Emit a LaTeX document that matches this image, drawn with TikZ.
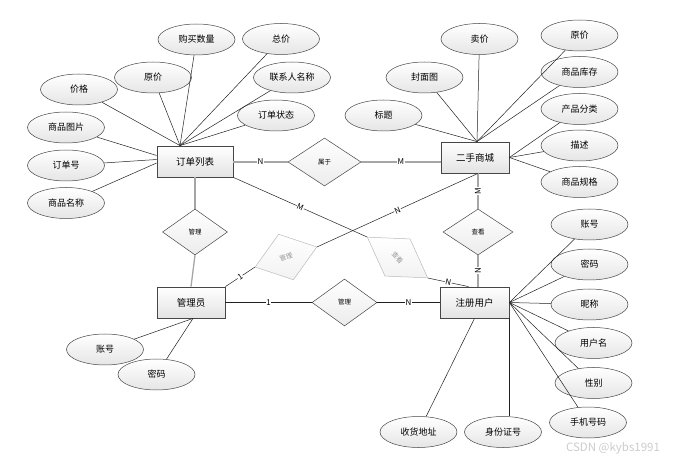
\documentclass[tikz,border=0pt]{standalone}
\usepackage{fontspec}
\setmainfont{Noto Sans CJK SC}
\usetikzlibrary{shapes.geometric}
\tikzstyle{entity} = [draw=gray!55!black, line width=0.8pt, rectangle, top color=white, bottom color=gray!22, minimum height=31pt, inner sep=0pt, font={\fontsize{9.5}{10}\selectfont}]
\tikzstyle{attr} = [draw=gray!55!black, line width=0.5pt, ellipse, top color=white, bottom color=gray!20, minimum width=77pt, minimum height=31pt, inner sep=0pt, font={\fontsize{9}{10}\selectfont}]
\tikzstyle{rel} = [draw=gray!55!black, line width=0.5pt, diamond, top color=white, bottom color=gray!15, inner sep=0pt, font={\fontsize{6.5}{7}\selectfont}]
\tikzstyle{faded} = [draw=gray!55, text=gray!85, top color=white, bottom color=gray!10]
\tikzstyle{card} = [fill=white, inner sep=0.6pt, font={\fontsize{8}{8}\selectfont}]
\tikzstyle{heavy} = [draw=gray!70, line width=1.3pt]
\tikzstyle{plain} = [draw=gray!25!black, line width=0.5pt]
\tikzstyle{watermark} = [text=gray!40, font={\fontsize{11.5}{12}\selectfont}]

\begin{document}
\begin{tikzpicture}[x=1pt,y=-1pt]
  \useasboundingbox (0,0) rectangle (675,462);
  % entities
  \node[entity,minimum width=76pt](ol) at (195,161.5){订单列表};
  \node[entity,minimum width=68pt](shop) at (475,157.5){二手商城};
  \node[entity,minimum width=68pt](admin) at (191,302.5){管理员};
  \node[entity,minimum width=69pt](user) at (474.5,302.5){注册用户};
  % relations
  \node[rel,minimum width=73pt,minimum height=48pt](belong) at (324.5,162){属于};
  \node[rel,minimum width=65pt,minimum height=46pt](mgA) at (195,232){管理};
  \node[rel,minimum width=70pt,minimum height=46pt](viewB) at (478,232){查看};
  \node[rel,minimum width=65pt,minimum height=47pt](mgB) at (344.5,302.5){管理};
  \node[rel,faded,rotate=18,minimum width=65pt,minimum height=48pt](mgC) at (286,257){管理};
  \node[rel,faded,rotate=-34,minimum width=73pt,minimum height=45pt](viewA) at (397.5,257.5){\rotatebox{-14}{查看}};
  % attributes of 订单列表
  \node[attr](olQty) at (196.5,39.5){购买数量};
  \node[attr](olTotal) at (281,39){总价};
  \node[attr](olOrig) at (153,77.5){原价};
  \node[attr](olContact) at (292,77.5){联系人名称};
  \node[attr](olPrice) at (79,89.5){价格};
  \node[attr](olState) at (276,115.5){订单状态};
  \node[attr](olPic) at (66,127.5){商品图片};
  \node[attr](olNo) at (66,165.5){订单号};
  \node[attr](olName) at (66,203){商品名称};
  % attributes of 二手商城
  \node[attr](shSell) at (479.5,39){卖价};
  \node[attr](shOrig) at (579.5,35.5){原价};
  \node[attr](shCover) at (424.5,77.5){封面图};
  \node[attr](shStock) at (579.5,72){商品库存};
  \node[attr](shTitle) at (383.5,115.5){标题};
  \node[attr](shKind) at (579.5,109){产品分类};
  \node[attr](shDesc) at (579.5,145.5){描述};
  \node[attr](shSpec) at (579.5,182){商品规格};
  % attributes of 注册用户
  \node[attr](usAcc) at (589.5,224.5){账号};
  \node[attr](usPwd) at (589.5,264.5){密码};
  \node[attr](usNick) at (589.5,304.5){昵称};
  \node[attr](usName) at (593.5,343){用户名};
  \node[attr](usSex) at (593.5,383){性别};
  \node[attr](usTel) at (588,422.5){手机号码};
  \node[attr](usAddr) at (418.5,432){收货地址};
  \node[attr](usId) at (503,432){身份证号};
  % attributes of 管理员
  \node[attr](adAcc) at (105,349.5){账号};
  \node[attr](adPwd) at (156.5,374.5){密码};
  \node[watermark](wm) at (613,448){CSDN @kybs1991};
  % attribute lines
  \coordinate (olTop) at ([xshift=-15pt]ol.north);
  \foreach \a in {olQty,olTotal,olOrig,olContact,olPrice,olState}
    \draw[plain] (\a) -- (olTop);
  \draw[plain] (olPic) -- ([yshift=6pt]ol.west);
  \draw[plain] (olNo) -- ([yshift=2pt]ol.west);
  \draw[plain] (olName) -- ([yshift=-1.5pt]ol.west);
  \foreach \a in {shSell,shOrig,shCover,shStock,shTitle}
    \draw[plain] (\a) -- ([xshift=2pt]shop.north);
  \foreach \a in {shKind,shDesc,shSpec}
    \draw[plain] (\a) -- (shop.east);
  \foreach \a in {usAcc,usPwd,usNick,usName,usSex,usTel}
    \draw[plain] (\a) -- (user.east);
  \draw[plain] (usAddr) -- (user.south);
  \draw[plain] (user.south east) -- (user.south east |- usId.north);
  \draw[plain] (adAcc) -- ([xshift=2pt]admin.south);
  \draw[plain] (adPwd) -- ([xshift=2pt]admin.south);
  % relation lines
  \draw[heavy] (ol.east |- belong.west) -- node[card]{N} (belong.west);
  \draw[heavy] (belong.east) -- node[card]{M} (shop.west |- belong.east);
  \draw[heavy] (ol.south) -- (mgA.north);
  \draw[heavy] (mgA.south) -- (admin.north);
  \draw[heavy] (viewB.north |- shop.south) -- node[card,rotate=90]{M} (viewB.north);
  \draw[heavy] (viewB.south) -- node[card,rotate=90]{N} (viewB.south |- user.north);
  \draw[plain] (admin.east) -- node[card]{1} (mgB.west);
  \draw[plain] (mgB.east) -- node[card]{N} (user.west);
  \draw[plain] (admin.north east) -- node[card,sloped]{1} (mgC.west);
  \draw[plain] (mgC.east) -- node[card,sloped]{N} (viewB.north |- shop.south);
  \draw[plain] (ol.south east) -- node[card,sloped]{M} (viewA.west);
  \draw[plain] (viewA.east) -- node[card,sloped]{N} ([xshift=-6pt]user.north);
\end{tikzpicture}
\end{document}
